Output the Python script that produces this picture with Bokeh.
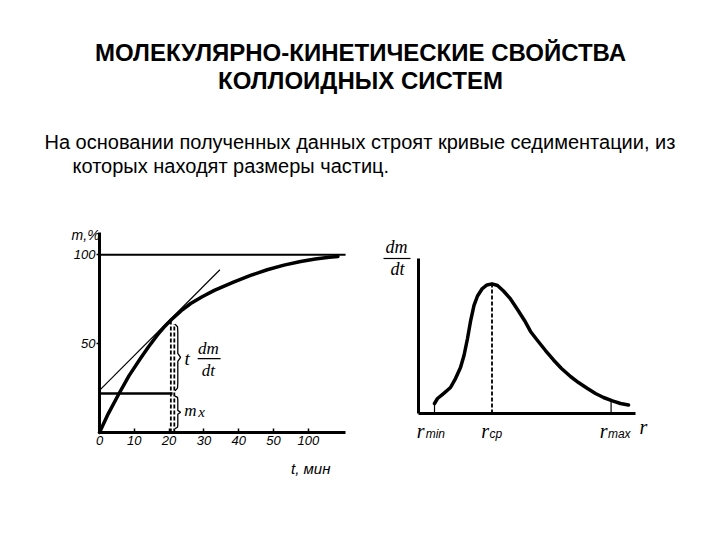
from bokeh.plotting import figure
from bokeh.models import Range1d, FixedTicker, LinearAxis
from bokeh.core.properties import value
from bokeh.embed import file_html
from bokeh.resources import INLINE

# ---------------- texts ----------------
title_lines = ["МОЛЕКУЛЯРНО-КИНЕТИЧЕСКИЕ СВОЙСТВА", "КОЛЛОИДНЫХ СИСТЕМ"]
body_lines = ["На основании полученных данных строят кривые седиментации, из",
              "которых находят размеры частиц."]

# ---------------- left chart: sedimentation curve m(t) ----------------
t_pos = [0, 2.5, 5.5, 8.5, 11.8, 14, 16.6, 18.5, 20.7, 23.5, 26.2, 29.5, 33,
         38.5, 43.4, 48.2, 53, 57.8, 62, 66, 68.5]
m_pct = [0, 10.5, 21.5, 32, 41.8, 48, 54.8, 59.2, 63.6, 68.6, 72.6, 76.4, 80,
         84.6, 88.4, 91.6, 94.2, 96.2, 97.6, 98.6, 99.1]
t_ticks = [0, 10, 20, 30, 40, 50, 60]
t_tick_labels = ["0", "10", "20", "30", "40", "50", "100"]
m_ticks = [50, 100]
m_tick_labels = ["50", "100"]
t_axis_end = 70.7
m_axis_end = 112.5
m_full = 100
tangent_t = [0, 34.6]
tangent_m = [23.7, 91.6]
t_touch = 20.5
m_touch = 63.4
t_touch2 = 21.5
m_touch2 = 61.0
m_x = 22.0

# ---------------- right chart: distribution curve dm/dt(r) ----------------
r_vals = [0.8, 0.95, 1.25, 1.6, 1.85, 2.1, 2.275, 2.45, 2.6, 2.775, 2.95, 3.175,
          3.425, 3.675, 3.95, 4.25, 4.6, 4.95, 5.3, 5.6, 5.95, 6.35, 6.75, 7.15,
          7.6, 8.0, 8.45, 8.85, 9.25, 9.7, 10.1, 10.5]
dmdt_vals = [0.078, 0.117, 0.156, 0.203, 0.273, 0.359, 0.453, 0.586, 0.719, 0.844,
             0.918, 0.973, 1.004, 1.013, 1.0, 0.957, 0.895, 0.813, 0.727, 0.641,
             0.57, 0.492, 0.418, 0.352, 0.289, 0.242, 0.195, 0.156, 0.125, 0.098,
             0.078, 0.066]
r_min, r_cp, r_max = 0.8, 3.675, 9.63
dmdt_at_rmin, dmdt_peak, dmdt_at_rmax = 0.078, 1.013, 0.1
r_axis_end = 10.85
dmdt_axis_end = 1.211
r_subs = ["min", "cp", "max"]

FONT = value("Liberation Sans")
SERIF = value("Liberation Serif")

p = figure(width=720, height=540,
           x_range=Range1d(-28.448, 178.448), y_range=Range1d(-60.776, 243.106),
           output_backend="svg", toolbar_location=None, min_border=0,
           x_axis_location=None, y_axis_location=None)
p.extra_x_ranges = {"r": Range1d(-20.9, 15.1), "page": Range1d(0, 720)}
p.extra_y_ranges = {"f": Range1d(-0.99219, 3.22656), "page": Range1d(540, 0)}
p.grid.visible = False
p.outline_line_color = None
p.background_fill_color = "white"
p.border_fill_color = "white"

# ---------------- header ----------------
p.text(x=[360, 360], y=[52, 80], text=title_lines, text_align="center",
       text_baseline="middle", text_font=FONT, text_font_style="bold",
       text_font_size="24px", text_color="black",
       x_range_name="page", y_range_name="page")
p.text(x=[44, 72], y=[141, 165], text=body_lines, text_align="left",
       text_baseline="middle", text_font=FONT, text_font_size="20px",
       text_color="black", x_range_name="page", y_range_name="page")


def style_axis(ax):
    ax.axis_line_width = 3
    ax.axis_line_color = "black"
    ax.minor_tick_line_color = None
    ax.major_tick_line_width = 1.5
    ax.major_label_text_font = "Liberation Sans"
    ax.major_label_text_font_style = "italic"
    ax.major_label_text_font_size = "13px"
    ax.major_label_text_color = "black"


def brace(x0, y_top, y_bot, w):
    h = y_top - y_bot
    ym = (y_top + y_bot) / 2
    xs = [x0, x0 + w * 0.45, x0 + w * 0.5, x0 + w * 0.5, x0 + w, x0 + w * 0.5,
          x0 + w * 0.5, x0 + w * 0.45, x0]
    ys = [y_top, y_top - h * 0.04, y_top - h * 0.12, ym + h * 0.06, ym,
          ym - h * 0.06, y_bot + h * 0.12, y_bot + h * 0.04, y_bot]
    return xs, ys


# ---------------- left chart axes ----------------
xa = LinearAxis(fixed_location=0, bounds=(0, t_axis_end),
                ticker=FixedTicker(ticks=t_ticks),
                major_label_overrides={k: v for k, v in zip(t_ticks, t_tick_labels)})
style_axis(xa)
xa.major_tick_in = 4
xa.major_tick_out = 0
xa.major_label_standoff = 3
p.add_layout(xa, "below")

ya = LinearAxis(fixed_location=0, bounds=(0, m_axis_end),
                ticker=FixedTicker(ticks=m_ticks),
                major_label_overrides={k: v for k, v in zip(m_ticks, m_tick_labels)})
style_axis(ya)
ya.major_tick_in = 0
ya.major_tick_out = 3
ya.major_label_standoff = 1
p.add_layout(ya, "left")

# ---------------- left chart marks ----------------
p.line([0, t_axis_end], [m_full, m_full], line_color="black", line_width=2)
p.line(tangent_t, tangent_m, line_color="black", line_width=1.2)
p.line(t_pos, m_pct, line_color="black", line_width=3.5, line_join="round", line_cap="round")
p.line([0, 21], [m_x, m_x], line_color="black", line_width=2.5)
p.line([t_touch, t_touch], [0, m_touch], line_color="black", line_width=1.8, line_dash="4 2")
p.line([t_touch2, t_touch2], [0, m_touch2], line_color="black", line_width=1.8, line_dash="4 2")
bx, by = brace(21.7, m_touch2, m_x + 1.5, 1.6)
p.line(bx, by, line_color="black", line_width=1.3)
bx, by = brace(21.7, m_x - 1.5, 2.2, 1.6)
p.line(bx, by, line_color="black", line_width=1.3)
p.text(x=[25.2], y=[41.5], text=["t"], text_align="center", text_baseline="middle",
       text_font=SERIF, text_font_style="italic", text_font_size="19px")
p.text(x=[31.3, 31.3], y=[47.3, 34.9], text=["dm", "dt"], text_align="center",
       text_baseline="middle", text_font=SERIF, text_font_style="italic", text_font_size="17px")
p.line([28.2, 34.8], [41.6, 41.6], line_color="black", line_width=1.2)
p.text(x=[26.1], y=[12.6], text=["m"], text_align="center", text_baseline="middle",
       text_font=SERIF, text_font_style="italic", text_font_size="17px")
p.text(x=[28.4], y=[11.4], text=["x"], text_align="left", text_baseline="middle",
       text_font=SERIF, text_font_style="italic", text_font_size="15px")
p.text(x=[-4.0], y=[110.9], text=["m,%"], text_align="center", text_baseline="middle",
       text_font=FONT, text_font_style="italic", text_font_size="14px")
p.text(x=[60.7], y=[-20.3], text=["t, мин"], text_align="center", text_baseline="middle",
       text_font=FONT, text_font_style="italic", text_font_size="15px")

# ---------------- right chart axes ----------------
for dim, loc in [("x", "below"), ("y", "left")]:
    ax = LinearAxis(x_range_name="r", y_range_name="f", fixed_location=0,
                    bounds=(0, r_axis_end) if dim == "x" else (0, dmdt_axis_end),
                    ticker=FixedTicker(ticks=[]))
    style_axis(ax)
    ax.major_tick_line_color = None
    p.add_layout(ax, loc)

# ---------------- right chart marks ----------------
p.line(r_vals, dmdt_vals, line_color="black", line_width=3.5, line_join="round",
       line_cap="round", x_range_name="r", y_range_name="f")
p.line([r_cp, r_cp], [0, dmdt_peak], line_color="black", line_width=1.8, line_dash="4 2",
       x_range_name="r", y_range_name="f")
p.line([r_min, r_min], [0, dmdt_at_rmin], line_color="black", line_width=1.2,
       x_range_name="r", y_range_name="f")
p.line([r_max, r_max], [0, dmdt_at_rmax], line_color="black", line_width=1.2,
       x_range_name="r", y_range_name="f")

r_tick_vals = [r_min, r_cp, r_max]
r_glyph_shift = [-0.5, -0.15, -0.18]
r_sub_shift = [-0.44, -0.125, -0.16]
p.text(x=[v + s for v, s in zip(r_tick_vals, r_glyph_shift)], y=[-0.133] * 3, text=["r"] * 3,
       text_align="right", text_baseline="middle", text_font=SERIF,
       text_font_style="italic", text_font_size="20px", x_range_name="r", y_range_name="f")
p.text(x=[v + s for v, s in zip(r_tick_vals, r_sub_shift)], y=[-0.16] * 3, text=r_subs,
       text_align="left", text_baseline="middle", text_font=FONT,
       text_font_style="italic", text_font_size="12px", x_range_name="r", y_range_name="f")
p.text(x=[11.05], y=[-0.102], text=["r"], text_align="left", text_baseline="middle",
       text_font=SERIF, text_font_style="italic", text_font_size="20px",
       x_range_name="r", y_range_name="f")
p.text(x=[-1.1, -1.05], y=[1.297, 1.125], text=["dm", "dt"], text_align="center",
       text_baseline="middle", text_font=SERIF, text_font_style="italic",
       text_font_size="18px", x_range_name="r", y_range_name="f")
p.line([-1.75, -0.4], [1.211, 1.211], line_color="black", line_width=1.2,
       x_range_name="r", y_range_name="f")

open("out.html", "w").write(file_html(p, INLINE))
